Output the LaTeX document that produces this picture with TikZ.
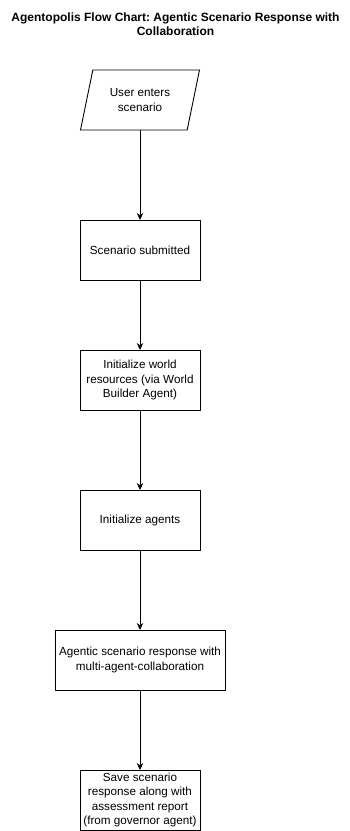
\documentclass[tikz,border=0pt]{standalone}
\usepackage{fontspec}
\setmainfont{Liberation Sans}
\usepackage{tikz}
\usetikzlibrary{positioning,arrows.meta,shapes.geometric}
\frenchspacing
\tikzset{
  flowarrow/.style={-{Stealth[length=7pt,width=6.5pt]}, line width=0.9pt},
  stepbox/.style={draw, line width=0.9pt, fill=white, minimum width=120pt, minimum height=60pt, inner sep=1pt, outer sep=0pt, align=center},
  inputbox/.style={draw, line width=0.9pt, fill=white, trapezium, trapezium left angle=71.57, trapezium right angle=108.43, trapezium stretches=true, minimum width=120pt, minimum height=60pt, inner sep=1pt, outer sep=0pt, align=center},
  titletext/.style={font=\fontsize{12}{14.3}\selectfont\bfseries, align=center, inner sep=0pt}
}
\begin{document}
\begin{tikzpicture}[x=1pt, y=-1pt, every node/.style={font=\fontsize{11.7}{14.3}\selectfont}]
  \useasboundingbox (0,0) rectangle (350,831);
  \node[titletext] (title) at (175.5,24) {Agentopolis Flow Chart: Agentic Scenario Response with\\Collaboration};
  \node[inputbox] (input) at (140,100) {User enters\\scenario};
  \node[stepbox] (submit) at (140,250) {Scenario submitted};
  \node[stepbox] (world) at (140,380) {Initialize world\\resources (via World\\Builder Agent)};
  \node[stepbox] (agents) at (140,520) {Initialize agents};
  \node[stepbox, minimum width=170pt] (collab) at (140,660) {Agentic scenario response with\\multi-agent-collaboration};
  \node[stepbox] (save) at (140,800) {Save scenario\\response along with\\assessment report\\(from governor agent)};
  \draw[flowarrow] (input) -- (submit);
  \draw[flowarrow] (submit) -- (world);
  \draw[flowarrow] (world) -- (agents);
  \draw[flowarrow] (agents) -- (collab);
  \draw[flowarrow] (collab) -- (save);
\end{tikzpicture}
\end{document}
